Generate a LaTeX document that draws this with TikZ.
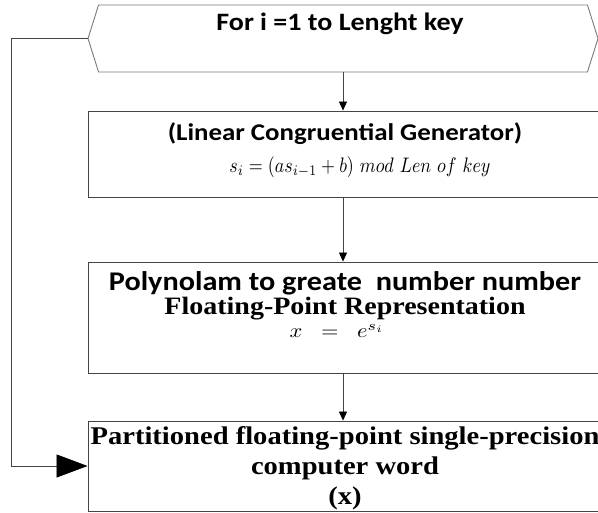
\documentclass[tikz,border=0pt]{standalone}
\usepackage{amsmath}
\usepackage{graphicx}
\usepackage{fontspec}
\usetikzlibrary{arrows.meta,shapes.symbols}
\newfontfamily\calibrifont{Carlito}[FakeStretch=1.12]
\newfontfamily\timesfont{Liberation Serif}[FakeStretch=1.12]
\definecolor{boxcol}{HTML}{444444}
\definecolor{hexcol}{HTML}{7a7a7a}
\definecolor{arrowcol}{HTML}{444444}

\begin{document}
\begin{tikzpicture}[x=1pt, y=-1pt,
    flowbox/.style={draw=boxcol, line width=0.9pt, minimum width=514pt, align=center, inner sep=0pt, text=black},
    flowarrow/.style={draw=arrowcol, line width=0.8pt, -{Triangle[length=9pt, width=8pt, color=black]}},
    looparrow/.style={draw=boxcol, line width=0.8pt, -{Triangle[length=31pt, width=23pt, color=black]}},
  ]
  \useasboundingbox (0,0) rectangle (598,513);
  \clip (0,0) rectangle (598,513);
  % loop header
  \node[signal, signal to=west and east, signal pointer angle=145, draw=hexcol, line width=0.9pt,
    minimum width=510pt, minimum height=67pt, inner sep=0pt] (loop) at (343,38.5) {};
  \node[anchor=base, font=\calibrifont\bfseries\fontsize{25}{30}\selectfont] (looptxt) at (340,31) {For i =1 to Lenght key};
  % LCG
  \node[flowbox, minimum height=86pt, text depth=13pt, font=\fontsize{24}{32}\selectfont] (lcg) at (345,154) {%
    {\calibrifont\bfseries (Linear Congruential Generator)}\\
    \hspace*{30pt}{\fontsize{10}{12}\selectfont\scalebox{1.8}[2.1]{$s_i = (as_{i-1} + b)\ mod\ Len\ of\ key$}}};
  % polynomial
  \node[flowbox, minimum height=111pt, text depth=26pt, font=\fontsize{27}{24}\selectfont] (poly) at (345,317.5) {%
    {\calibrifont\bfseries Polynolam to greate\ \ number number}\\
    {\timesfont\bfseries\fontsize{25}{24}\selectfont Floating-Point Representation}\\[-1pt]
    \hspace*{-16pt}{\fontsize{10}{12}\selectfont\scalebox{2.24}[2]{$x \;\;=\;\; e^{s_i}$}}};
  % output word
  \node[flowbox, minimum height=90pt, text depth=0pt, font=\timesfont\bfseries\fontsize{25.5}{30}\selectfont] (word) at (345,466) {%
    Partitioned floating-point single-precision\\
    computer word\\
    (x)};
  % arrows
  \draw[flowarrow] (loop.south) -- (loop.south |- lcg.north);
  \draw[flowarrow] (lcg.south -| loop.south) -- (loop.south |- poly.north);
  \draw[flowarrow] (poly.south -| loop.south) -- (loop.south |- word.north);
  \draw[looparrow] (loop.west) -- ++(-76,0) |- (word.west);
\end{tikzpicture}
\end{document}
